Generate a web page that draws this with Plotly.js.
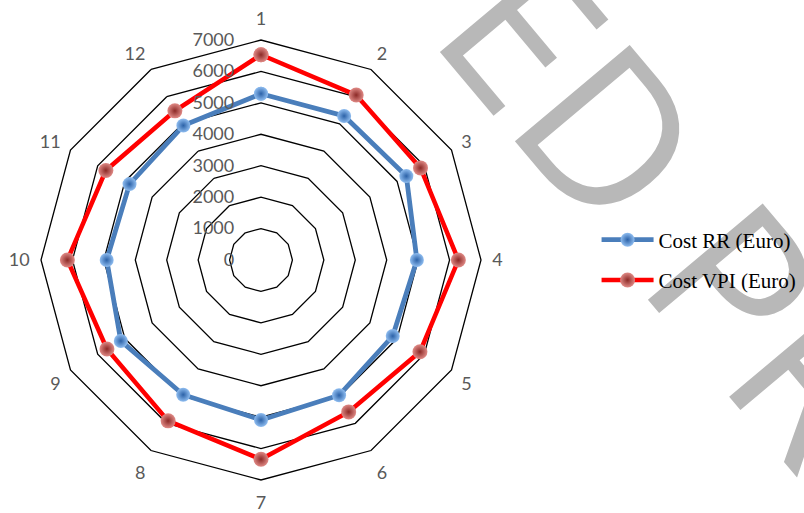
<!DOCTYPE html>
<html>
<head>
<meta charset="utf-8">
<script src="https://cdn.plot.ly/plotly-3.0.1.min.js"></script>
<style>
  html, body { margin: 0; padding: 0; background: #ffffff; }
  #chart { width: 804px; height: 513px; }
</style>
</head>
<body>
<div id="chart"></div>
<script>
// Month / period categories around the radar
const categories = ['1', '2', '3', '4', '5', '6', '7', '8', '9', '10', '11', '12'];

// Cost per period, in euro
const costRR  = [5290, 5290, 5340, 4960, 4840, 4970, 5090, 4950, 5150, 4910, 4830, 4940];
const costVPI = [6530, 6060, 5860, 6280, 5840, 5580, 6340, 5910, 5660, 6160, 5700, 5480];

const seriesNames = ['Cost RR (Euro)', 'Cost VPI (Euro)'];
const radialTicks = [0, 1000, 2000, 3000, 4000, 5000, 6000, 7000];

// close each polygon by repeating the first point
const closeLoop = arr => arr.concat([arr[0]]);

const traces = [
  {
    type: 'scatterpolar',
    name: seriesNames[0],
    legendgroup: 'rr',
    theta: closeLoop(categories),
    r: closeLoop(costRR),
    mode: 'lines+markers',
    line: { color: '#4a7ebb', width: 4.8 },
    marker: {
      size: 14,
      color: '#8fbdf0',
      gradient: { type: 'radial', color: '#2c62a8' },
      line: { width: 0 }
    },
    cliponaxis: false
  },
  {
    type: 'scatterpolar',
    name: seriesNames[1],
    legendgroup: 'vpi',
    theta: closeLoop(categories),
    r: closeLoop(costVPI),
    mode: 'lines+markers',
    line: { color: '#ff0000', width: 4.5 },
    marker: {
      size: 15,
      color: '#e08a86',
      gradient: { type: 'radial', color: '#8c2a27' },
      line: { width: 0 }
    },
    cliponaxis: false
  }
];

const layout = {
  width: 804,
  height: 513,
  margin: { l: 0, r: 0, t: 0, b: 0 },
  paper_bgcolor: '#ffffff',
  plot_bgcolor: 'rgba(0,0,0,0)',
  showlegend: true,
  polar: {
    domain: { x: [41 / 804, 481 / 804], y: [33 / 513, 473 / 513] },
    bgcolor: 'rgba(0,0,0,0)',
    gridshape: 'linear',
    radialaxis: {
      range: [0, 7000],
      tickvals: radialTicks,
      angle: 90,
      side: 'counterclockwise',
      tickangle: 90,
      showline: false,
      ticks: 'outside',
      ticklen: 20,
      tickcolor: 'rgba(0,0,0,0)',
      showgrid: true,
      gridcolor: '#000000',
      gridwidth: 1.3,
      tickfont: { family: 'Lato', size: 18, color: '#595959' }
    },
    angularaxis: {
      type: 'category',
      categoryarray: categories,
      rotation: 90,
      direction: 'clockwise',
      showgrid: false,
      showline: true,
      linecolor: '#000000',
      linewidth: 1.3,
      ticks: 'outside',
      ticklen: 7,
      tickcolor: 'rgba(0,0,0,0)',
      tickfont: { family: 'Lato', size: 18, color: '#595959' }
    }
  },
  legend: {
    x: 0.742,
    y: 0.572,
    xanchor: 'left',
    yanchor: 'top',
    itemwidth: 52,
    traceorder: 'grouped',
    tracegroupgap: 10,
    bgcolor: 'rgba(0,0,0,0)',
    font: { family: 'Liberation Serif', size: 21, color: '#000000' }
  },
  // large diagonal stamp lettering behind the chart
  shapes: [
    {
      type: 'rect',
      xref: 'paper', yref: 'paper',
      x0: 0.53, x1: 1.03, y0: 0.367, y1: 0.967,
      layer: 'below',
      line: { width: 0 },
      fillcolor: 'rgba(0,0,0,0)',
      label: {
        text: 'TED PR',
        textangle: 50,
        textposition: 'middle center',
        font: { family: 'Open Sans', size: 210, color: '#b8b8b8', weight: 400 }
      }
    }
  ]
};

Plotly.newPlot('chart', traces, layout, { displayModeBar: false, staticPlot: true });
</script>
</body>
</html>
